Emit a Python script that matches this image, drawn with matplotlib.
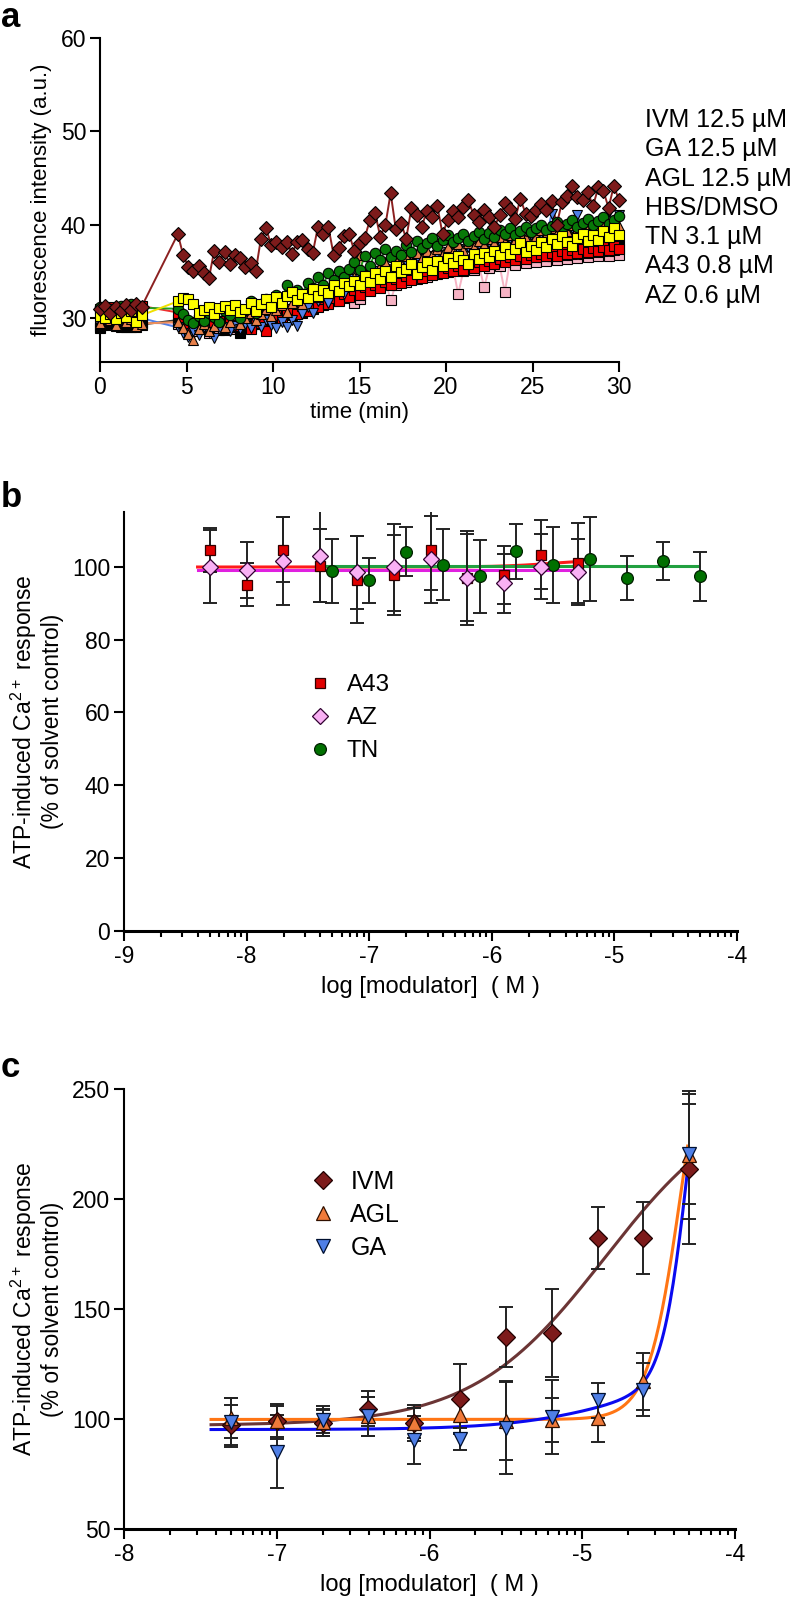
import numpy as np
import matplotlib.pyplot as plt
from matplotlib.ticker import FixedLocator

plt.rcParams['font.family'] = ['Liberation Sans', 'DejaVu Sans']
plt.rcParams['mathtext.default'] = 'regular'
plt.rcParams['axes.unicode_minus'] = False

# ---------------- panel a: time course ----------------
t_base = [0.0, 0.3, 0.6, 0.9, 1.2, 1.5, 1.8, 2.1, 2.4]
t_after = np.round(np.arange(4.5, 30.01, 0.3), 1)   # sampling after addition

ivm_base = [31.0, 31.3, 30.6, 31.2, 30.8, 31.4, 30.9, 31.5, 31.2]
ivm_after = [39.0, 36.8, 35.5, 35.0, 35.6, 34.8, 34.3, 37.2, 36.0, 37.1,
             35.8, 36.8, 36.4, 35.5, 35.9, 35.0, 38.5, 39.6, 37.8, 38.1,
             37.6, 38.2, 36.9, 38.2, 38.4, 37.4, 37.0, 39.8, 39.0, 39.8,
             36.8, 37.5, 38.8, 39.0, 37.2, 38.0, 38.6, 40.5, 41.3, 38.7,
             40.0, 43.4, 39.5, 40.2, 38.5, 41.8, 41.0, 39.8, 41.5, 40.8,
             42.0, 39.0, 40.5, 41.5, 40.8, 41.9, 42.6, 41.0, 40.3, 41.6,
             40.8, 39.8, 41.0, 42.3, 41.7, 40.6, 42.8, 41.2, 40.9, 41.6,
             42.2, 41.6, 42.5, 40.0, 42.4, 43.1, 44.2, 43.0, 42.7, 43.5,
             42.0, 44.0, 43.6, 41.8, 44.2, 42.6]

dmso_base = [30.2, 30.0, 30.4, 29.9, 30.5, 30.1, 30.8, 29.6, 30.3]
dmso_after = [31.8, 32.2, 32.0, 31.5, 30.6, 30.9, 31.2, 30.4, 31.1, 31.3,
              30.9, 31.4, 30.7, 31.0, 31.6, 30.8, 31.5, 32.0, 31.2, 32.3,
              31.6, 32.4, 32.8, 31.9, 32.6, 32.2, 33.1, 32.4, 33.0, 32.7,
              33.5, 32.9, 33.8, 33.4, 34.0, 33.6, 34.5, 33.9, 34.8, 34.2,
              35.0, 34.4, 35.6, 34.9, 35.3, 35.8, 34.7, 35.5, 36.0, 35.2,
              36.1, 35.6, 36.4, 35.9, 36.6, 36.2, 35.8, 36.9, 36.3, 37.0,
              36.5, 37.2, 36.8, 37.6, 36.9, 37.4, 38.0, 37.1, 37.7, 37.3,
              38.2, 37.6, 38.5, 37.9, 38.8, 38.1, 37.7, 38.6, 39.0, 38.3,
              38.9, 38.4, 39.3, 38.7, 39.6, 38.9]

tn_base = [31.2, 30.6, 31.0, 30.4, 31.3, 30.8, 31.5, 30.9, 31.1]
tn_after = [31.0, 30.4, 29.8, 29.5, 30.2, 29.7, 30.5, 30.1, 29.6, 30.8,
            30.3, 31.2, 30.0, 30.9, 31.8, 30.5, 31.4, 32.0, 31.2, 32.5,
            31.9, 33.6, 32.4, 33.0, 32.6, 33.8, 33.2, 34.4, 33.6, 34.8,
            34.1, 35.0, 34.4, 35.3, 36.0, 35.1, 36.6, 35.6, 37.0, 36.2,
            37.4, 36.5, 37.2, 36.8, 37.8, 37.1, 38.3, 37.5, 38.0, 38.6,
            37.7, 38.4, 38.9, 38.1, 38.6, 39.0, 38.3, 38.8, 39.2, 38.5,
            39.1, 38.7, 39.4, 39.0, 39.6, 38.9, 39.3, 39.8, 39.2, 39.6,
            40.0, 39.4, 39.9, 40.3, 39.6, 40.1, 40.5, 39.8, 40.2, 40.6,
            40.0, 40.4, 40.8, 40.1, 40.5, 40.9]

agl_base = [29.5, 30.1, 29.8, 29.3, 30.0, 29.6, 29.9, 29.2, 29.4]
agl_after = [29.6, 28.9, 28.3, 27.7, 28.8, 29.4, 28.6, 29.2, 29.8, 29.0,
             29.6, 30.3, 29.4, 30.0, 30.6, 29.8, 30.4, 31.0, 30.2, 30.9,
             31.4, 30.7, 31.6, 32.2, 31.5, 32.4, 33.0, 32.3, 33.3, 32.8,
             33.6, 33.1, 34.0, 33.5, 34.4, 36.8, 34.6, 35.1, 34.8, 35.6,
             36.0, 35.3, 36.2, 35.8, 36.6, 36.1, 37.0, 36.4, 37.2, 36.8,
             37.4, 36.9, 37.6, 37.1, 37.9, 37.3, 38.0, 37.6, 38.3, 37.8,
             38.5, 38.0, 38.7, 38.2, 38.9, 38.4, 39.1, 38.6, 39.3, 38.8,
             39.4, 38.9, 39.6, 39.1, 39.8, 39.3, 40.0, 39.5, 40.2, 39.7,
             40.1, 39.6, 40.3, 39.8, 40.4, 39.9]

ga_base = [29.4, 29.9, 29.6, 30.1, 29.7, 30.2, 29.8, 29.5, 30.0]
ga_after = [29.0, 28.4, 28.0, 28.6, 28.2, 29.0, 28.5, 27.9, 28.8, 29.1,
            28.6, 29.2, 28.8, 29.4, 28.9, 29.6, 29.0, 29.8, 29.3, 28.9,
            29.6, 29.1, 29.8, 29.2, 30.4, 31.2, 30.6, 31.8, 32.4, 31.6,
            32.8, 33.4, 32.6, 33.8, 34.2, 33.5, 34.6, 33.9, 35.0, 34.5,
            35.3, 34.8, 35.6, 35.1, 36.0, 35.4, 36.3, 35.7, 36.6, 36.0,
            36.8, 36.3, 37.1, 36.5, 37.4, 36.9, 37.6, 37.0, 37.8, 37.3,
            38.0, 37.5, 38.2, 37.7, 38.5, 37.9, 38.7, 38.1, 38.9, 38.3,
            39.0, 38.5, 41.2, 38.7, 39.3, 38.8, 39.6, 41.0, 39.1, 39.7,
            39.2, 40.1, 39.5, 41.4, 39.8, 41.0]

a43_base = [31.0, 30.5, 31.2, 30.8, 30.4, 31.1, 30.7, 30.9, 31.3]
a43_after = [30.6, 29.8, 29.2, 29.6, 29.0, 29.5, 29.9, 29.3, 29.7, 29.1,
             29.6, 29.2, 29.8, 29.4, 28.8, 30.0, 29.5, 28.6, 29.9, 30.3,
             29.8, 30.6, 31.0, 30.4, 31.3, 30.8, 31.6, 31.2, 32.0, 31.5,
             32.2, 31.8, 32.6, 32.3, 33.0, 32.5, 33.3, 32.9, 33.6, 33.2,
             33.9, 33.5, 34.2, 33.8, 34.5, 34.1, 34.8, 34.3, 35.0, 34.6,
             35.2, 34.8, 35.4, 35.0, 35.6, 35.2, 35.8, 35.4, 36.0, 35.6,
             36.1, 35.8, 36.3, 36.0, 36.5, 36.2, 36.6, 36.3, 36.8, 36.5,
             36.9, 36.6, 37.0, 36.7, 37.2, 36.9, 37.3, 37.0, 37.4, 37.1,
             37.5, 37.2, 37.6, 37.3, 37.7, 37.4]

hbs_base = [28.9, 29.4, 29.8, 29.2, 29.6, 29.1, 29.5, 29.0, 29.3]
hbs_after = [29.8, 29.3, 28.9, 29.5, 29.0, 29.4, 28.8, 29.6, 29.2, 28.7,
             29.5, 29.0, 28.4, 29.6, 29.2, 29.8, 29.4, 30.1, 29.7, 30.4,
             30.0, 30.7, 30.3, 31.0, 30.6, 31.4, 31.0, 31.8, 31.4, 32.2,
             31.8, 32.6, 32.2, 33.0, 32.6, 33.4, 33.0, 33.8, 33.4, 34.1,
             33.7, 34.4, 34.0, 34.7, 34.3, 35.0, 34.6, 35.3, 34.9, 35.5,
             35.1, 35.7, 35.3, 35.9, 35.5, 36.1, 35.7, 36.2, 35.9, 36.4,
             36.0, 36.5, 36.2, 36.7, 36.3, 36.8, 36.4, 36.9, 36.5, 37.0,
             36.6, 37.1, 36.7, 37.2, 36.8, 37.3, 36.9, 37.4, 37.0, 37.5,
             37.1, 37.6, 37.2, 37.7, 37.3, 37.8]

az_base = [29.2, 29.6, 29.3, 29.8, 29.1, 29.7, 29.0, 29.4, 29.5]
az_after = [29.4, 30.0, 29.2, 28.6, 29.4, 28.9, 28.4, 29.1, 28.7, 29.3,
            28.8, 29.5, 29.0, 29.7, 29.2, 29.9, 30.4, 29.6, 30.2, 30.8,
            30.3, 31.0, 30.6, 31.3, 32.2, 31.6, 32.5, 31.8, 32.8, 32.2,
            32.8, 32.4, 33.2, 32.7, 31.6, 32.1, 33.4, 33.0, 33.8, 33.3,
            34.0, 31.9, 33.6, 34.3, 33.9, 34.6, 34.2, 34.9, 34.4, 35.1,
            34.7, 35.3, 34.9, 35.5, 32.6, 35.0, 35.6, 35.2, 35.8, 33.3,
            35.4, 36.0, 35.6, 32.8, 36.1, 35.7, 36.3, 35.9, 36.4, 36.0,
            36.5, 36.1, 36.6, 36.2, 36.7, 36.3, 36.8, 36.4, 36.9, 36.5,
            37.0, 36.6, 37.1, 36.7, 37.2, 36.8]

legend_a = ['IVM 12.5 \u00b5M', 'GA 12.5 \u00b5M', 'AGL 12.5 \u00b5M', 'HBS/DMSO',
            'TN 3.1 \u00b5M', 'A43 0.8 \u00b5M', 'AZ 0.6 \u00b5M']

# ---------------- panel b ----------------
x_b = [-8.3, -8.0, -7.7, -7.4, -7.1, -6.8, -6.5, -6.2, -5.9, -5.6, -5.3]
a43_b = [104.6, 95.1, 104.7, 100.3, 96.4, 97.7, 104.6, 97.0, 97.7, 103.3, 101.0]
a43_b_sd = [6.0, 6.0, 8.8, 10.0, 12.0, 11.0, 11.0, 12.0, 8.0, 9.5, 11.0]
az_b = [100.0, 99.0, 101.5, 103.0, 98.5, 99.8, 102.0, 96.9, 95.4, 100.0, 98.6]
az_b_sd = [10.0, 7.7, 12.0, 12.8, 10.0, 12.0, 12.0, 13.0, 8.0, 9.0, 9.0]
x_tn = [-7.3, -7.0, -6.7, -6.4, -6.1, -5.8, -5.5, -5.2, -4.9, -4.6, -4.3]
tn_b = [98.7, 96.2, 104.1, 100.5, 97.3, 104.2, 100.5, 102.0, 96.9, 101.6, 97.3]
tn_b_sd = [8.8, 6.3, 6.8, 9.7, 10.0, 7.6, 10.4, 11.5, 6.1, 5.3, 6.7]

# fitted curves (bottom, top, logEC50, hill)
fit_a43 = (99.9, 102.0, -5.5, 2.0)
fit_az = (99.0, 99.0, -6.0, 1.0)
fit_tn = (100.2, 100.2, -6.0, 1.0)

# ---------------- panel c ----------------
x_c = [-7.3, -7.0, -6.7, -6.4, -6.1, -5.8, -5.5, -5.2, -4.9, -4.6, -4.3]
ivm_c = [97.4, 98.9, 98.2, 104.7, 98.2, 109.1, 137.3, 139.2, 182.3, 182.3, 213.6]
ivm_c_sd = [9, 8, 6, 8, 7, 16, 13.5, 20, 14, 16.5, 34]
agl_c = [100.5, 98.9, 98.5, 101.2, 98.2, 101.7, 99.2, 99.7, 100.5, 117.2, 220.0]
agl_c_sd = [9, 7, 6, 9, 8, 8, 18, 10, 11, 13, 29]
ga_c = [98.5, 85.2, 99.7, 101.2, 90.5, 90.9, 95.9, 100.9, 108.5, 113.4, 220.5]
ga_c_sd = [11, 16.5, 6, 9, 11, 5, 21, 17, 8, 12, 22.6]

fit_ivm = (97.0, 250.0, -4.85, 1.0)
fit_agl = (99.8, 310.0, -4.35, 4.0)
# GA: two-phase fit (bottom, span1, logEC50_1, hill1, span2, logEC50_2, hill2)
fit_ga = (95.2, 25.0, -4.75, 1.2, 210.0, -4.3, 5.0)


def logistic(x, bottom, top, logec50, hill):
    return bottom + (top - bottom) / (1 + 10 ** ((logec50 - x) * hill))


def biphasic(x, bottom, s1, e1, h1, s2, e2, h2):
    return bottom + s1 / (1 + 10 ** ((e1 - x) * h1)) + s2 / (1 + 10 ** ((e2 - x) * h2))


def clean(ax, lw=1.5):
    for s in ['top', 'right']:
        ax.spines[s].set_visible(False)
    for s in ['left', 'bottom']:
        ax.spines[s].set_linewidth(lw)
    ax.tick_params(direction='out', width=lw, length=7, labelsize=16.5, pad=3)


def log_minor(ax, lo, hi):
    minors = [d + np.log10(k) for d in range(lo, hi) for k in range(2, 10)]
    ax.xaxis.set_minor_locator(FixedLocator(minors))
    ax.tick_params(which='minor', direction='out', length=4, width=1.5)


fig = plt.figure(figsize=(7.92, 15.97), dpi=100)
H = 1597.0
W = 792.0

# panel a
ax = fig.add_axes([100 / W, 1 - 362 / H, 519 / W, 324 / H])
series_a = [
    (az_base, az_after, 's', '#f6b3c4', '#f6b3c4', 6.5),
    (hbs_base, hbs_after, 's', 'black', '#333333', 6.5),
    (a43_base, a43_after, 's', '#ee0000', '#ee3030', 6.5),
    (ga_base, ga_after, 'v', '#4f7fe6', '#4f7fe6', 7.5),
    (agl_base, agl_after, '^', '#e7804a', '#f0905a', 7.5),
    (tn_base, tn_after, 'o', '#087808', '#20a020', 7.5),
    (dmso_base, dmso_after, 's', '#ffff00', '#f0e000', 6.8),
    (ivm_base, ivm_after, 'D', '#7d1b1b', '#8b2020', 7.0),
]
for base, after, mk, fc, lc, ms in series_a:
    t = list(t_base) + list(t_after)
    v = list(base) + list(after)
    ax.plot(t, v, '-', color=lc, lw=1.4, zorder=2)
    ax.plot(t, v, mk, mfc=fc, mec='black', mew=0.8, ms=ms, ls='none',
            clip_on=False, zorder=3)
ax.set_xlim(0, 30)
ax.set_ylim(25.3, 60)
ax.set_xticks(range(0, 31, 5))
ax.set_yticks(range(30, 61, 10))
clean(ax)
ax.set_xlabel('time (min)', fontsize=16, labelpad=2)
ax.set_ylabel('fluorescence intensity (a.u.)', fontsize=16, labelpad=6)
for i, lab in enumerate(legend_a):
    fig.text(645 / W, 1 - (120 + 29.3 * i) / H, lab, fontsize=18, va='center', ha='left')

# panel b
ax = fig.add_axes([124 / W, 1 - 931 / H, 613 / W, 419 / H])
xf = np.linspace(-8.4, -5.3, 200)
ax.plot(xf, logistic(xf, *fit_a43), color='#ff1a1a', lw=2.2, zorder=2)
ax.plot(xf, logistic(xf, *fit_az), color='#e020e0', lw=2.2, zorder=2)
xf = np.linspace(-7.38, -4.33, 200)
ax.plot(xf, logistic(xf, *fit_tn), color='#22a040', lw=2.2, zorder=2)
eb = dict(fmt='none', ecolor='#222222', elinewidth=1.4, capsize=5, capthick=1.4, zorder=3)
ax.errorbar(x_tn, tn_b, yerr=tn_b_sd, **eb)
ax.errorbar(x_b, a43_b, yerr=a43_b_sd, **eb)
ax.errorbar(x_b, az_b, yerr=az_b_sd, **eb)
h1, = ax.plot(x_b, a43_b, 's', mfc='#e00000', mec='#300000', mew=0.9, ms=7.5, zorder=4, label='A43')
h3, = ax.plot(x_tn, tn_b, 'o', mfc='#007000', mec='#002000', mew=0.9, ms=8.5, zorder=4, label='TN')
h2, = ax.plot(x_b, az_b, 'D', mfc='#f9b0f4', mec='#300030', mew=0.9, ms=8.5, zorder=5, label='AZ')
ax.legend(handles=[h1, h2, h3], loc='center left', bbox_to_anchor=(0.30, 0.508),
          frameon=False, fontsize=17.5, handlelength=1.0, handletextpad=0.6,
          labelspacing=0.45, borderpad=0, borderaxespad=0)
ax.set_xlim(-9, -4)
ax.set_ylim(0, 115)
ax.set_xticks(range(-9, -3))
ax.set_yticks(range(0, 101, 20))
clean(ax)
ax.spines['bottom'].set_linewidth(2.2)
log_minor(ax, -9, -4)
ax.set_xlabel('log [modulator]  ( M )', fontsize=17, labelpad=6)
ax.set_ylabel('ATP-induced Ca$^{2+}$ response\n(% of solvent control)', fontsize=16.5,
              labelpad=6, linespacing=1.1)

# panel c
ax = fig.add_axes([124 / W, 1 - 1529 / H, 611 / W, 440 / H])
xf = np.linspace(-7.43, -4.33, 300)
ax.plot(xf, logistic(xf, *fit_ivm), color='#6b3535', lw=2.2, zorder=2)
xf = np.linspace(-7.43, -4.31, 300)
ax.plot(xf, logistic(xf, *fit_agl), color='#ff7514', lw=2.2, zorder=2)
xf = np.linspace(-7.43, -4.30, 300)
ax.plot(xf, biphasic(xf, *fit_ga), color='#0a0af0', lw=2.2, zorder=2)
ax.errorbar(x_c, ivm_c, yerr=ivm_c_sd, **eb)
ax.errorbar(x_c, agl_c, yerr=agl_c_sd, **eb)
ax.errorbar(x_c, ga_c, yerr=ga_c_sd, **eb)
g1, = ax.plot(x_c, ivm_c, 'D', mfc='#7d1b1b', mec='#200000', mew=0.9, ms=9.5, zorder=4, label='IVM')
g2, = ax.plot(x_c, agl_c, '^', mfc='#f07a3a', mec='#301000', mew=0.9, ms=9.5, zorder=5, label='AGL')
g3, = ax.plot(x_c, ga_c, 'v', mfc='#4f7fe6', mec='#001030', mew=0.9, ms=9.5, zorder=5, label='GA')
ax.legend(handles=[g1, g2, g3], loc='center left', bbox_to_anchor=(0.305, 0.714),
          frameon=False, fontsize=18, handlelength=1.0, handletextpad=0.6,
          labelspacing=0.35, borderpad=0, borderaxespad=0)
ax.set_xlim(-8, -4)
ax.set_ylim(50, 250)
ax.set_xticks(range(-8, -3))
ax.set_yticks(range(50, 251, 50))
clean(ax)
ax.spines['bottom'].set_linewidth(2.2)
log_minor(ax, -8, -4)
ax.set_xlabel('log [modulator]  ( M )', fontsize=17, labelpad=6)
ax.set_ylabel('ATP-induced Ca$^{2+}$ response\n(% of solvent control)', fontsize=16.5,
              labelpad=6, linespacing=1.1)

for lab, y in [('a', 1), ('b', 481), ('c', 1051)]:
    fig.text(1 / W, 1 - y / H, lab, fontsize=25, fontweight='bold', va='top', ha='left')

fig.savefig('out.png', dpi=100)
